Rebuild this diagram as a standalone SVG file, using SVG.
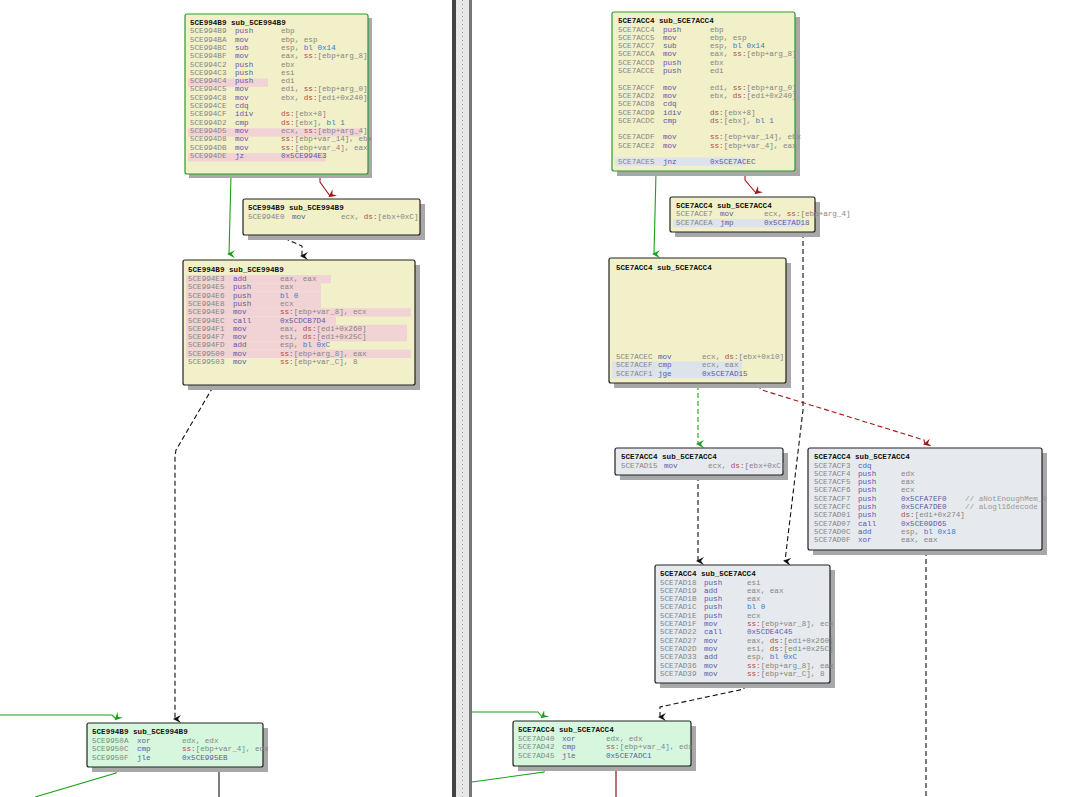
<svg xmlns="http://www.w3.org/2000/svg" width="1080" height="797" viewBox="0 0 1080 797">
<style>
text{font-family:"Liberation Mono",monospace;font-size:7.6px;fill:#858585}
.h{fill:#111;font-weight:bold}
.m{fill:#5a5aa8}
.r{fill:#b04848}
.n{fill:#3a78c8}
.c{fill:#999}
.y{fill:#f1f0c9}
.g{fill:#d6f7de}
.b{fill:#e6eaee}
.box{stroke:#222;stroke-width:1.2}
.gb{stroke:#2a9a2a;stroke-width:1.2}
.sh{fill:#a8a8a8}
.pk{fill:#f2d3d5}
.bl{fill:#dde3ec}
.e{fill:none;stroke-width:1.1}
</style>
<defs>
<marker id="ak" markerWidth="8" markerHeight="8" refX="4" refY="6" orient="auto-start-reverse" markerUnits="userSpaceOnUse" viewBox="0 0 8 8"><path d="M0,0 L4,8 L8,0 L4,3z" fill="#111"/></marker>
<marker id="ag" markerWidth="8" markerHeight="8" refX="4" refY="6" orient="auto-start-reverse" markerUnits="userSpaceOnUse" viewBox="0 0 8 8"><path d="M0,0 L4,8 L8,0 L4,3z" fill="#1aa01a"/></marker>
<marker id="ar" markerWidth="8" markerHeight="8" refX="4" refY="6" orient="auto-start-reverse" markerUnits="userSpaceOnUse" viewBox="0 0 8 8"><path d="M0,0 L4,8 L8,0 L4,3z" fill="#a01818"/></marker>
</defs>
<rect width="1080" height="797" fill="#fff"/>
<g id="divider">
<rect x="452" y="0" width="4" height="797" fill="#444"/>
<rect x="456" y="0" width="13" height="797" fill="#e8e8e8"/>
<line x1="462.5" y1="0" x2="462.5" y2="797" stroke="#999" stroke-dasharray="1 3"/>
<rect x="469" y="0" width="3" height="797" fill="#777"/>
</g>
<g id="connectors">
<path class="e" stroke="#1aa01a" d="M231,175 L229,254" marker-end="url(#ag)"/>
<path class="e" stroke="#a01818" d="M320,175 L320,182 L330,196" marker-end="url(#ar)"/>
<path class="e" stroke="#111" stroke-dasharray="5 3" d="M288,236 L288,240 L302,246 L302,256" marker-end="url(#ak)"/>
<path class="e" stroke="#111" stroke-dasharray="5 3" d="M213,387 L176,450 L175,456 L175,719" marker-end="url(#ak)"/>
<path class="e" stroke="#1aa01a" d="M0,715 L112,715 L116,719" marker-end="url(#ag)"/>
<path class="e" stroke="#1aa01a" d="M118,768 L116,773 L35,797"/>
<path class="e" stroke="#111" d="M219,768 L219,797"/>
<path class="e" stroke="#1aa01a" d="M656,172 L654,254" marker-end="url(#ag)"/>
<path class="e" stroke="#a01818" d="M745,172 L745,180 L756,193" marker-end="url(#ar)"/>
<path class="e" stroke="#111" stroke-dasharray="5 3" d="M803,233 L803,410 L785,561" marker-end="url(#ak)"/>
<path class="e" stroke="#1aa01a" stroke-dasharray="5 3" d="M698,385 L698,444" marker-end="url(#ag)"/>
<path class="e" stroke="#a01818" stroke-dasharray="5 3" d="M757,385 L762,390 L924,440 L925,444" marker-end="url(#ar)"/>
<path class="e" stroke="#111" stroke-dasharray="5 3" d="M698,476 L698,561" marker-end="url(#ak)"/>
<path class="e" stroke="#111" stroke-dasharray="5 3" d="M926,551 L926,797"/>
<path class="e" stroke="#111" stroke-dasharray="5 3" d="M744,684 L744,689 L660,707 L660,717" marker-end="url(#ak)"/>
<path class="e" stroke="#1aa01a" d="M472,712 L538,712 L542,717" marker-end="url(#ag)"/>
<path class="e" stroke="#1aa01a" d="M545,767 L544,772 L472,782"/>
<path class="e" stroke="#7a0000" d="M616,767 L616,797"/>
</g>

<g id="L1">
<rect class="sh" x="189" y="18" width="183" height="160"/>
<rect class="y gb" x="185" y="14" width="183" height="160" rx="2"/>
<rect class="pk" x="188" y="78.5" width="80" height="8.3"/>
<rect class="pk" x="188" y="128.3" width="173" height="8.3"/>
<rect class="pk" x="188" y="153.2" width="138" height="8.3"/>
<text class="h" x="190" y="25">5CE994B9    sub_5CE994B9</text>
<text x="190" y="33.3">5CE994B9<tspan class="m" x="235">push</tspan><tspan x="281">ebp</tspan></text>
<text x="190" y="41.6">5CE994BA<tspan class="m" x="235">mov</tspan><tspan x="281">ebp, esp</tspan></text>
<text x="190" y="49.9">5CE994BC<tspan class="m" x="235">sub</tspan><tspan x="281">esp, </tspan><tspan class="n">bl 0x14</tspan></text>
<text x="190" y="58.2">5CE994BF<tspan class="m" x="235">mov</tspan><tspan x="281">eax, </tspan><tspan class="r">ss:</tspan>[ebp+arg_8]</text>
<text x="190" y="66.5">5CE994C2<tspan class="m" x="235">push</tspan><tspan x="281">ebx</tspan></text>
<text x="190" y="74.8">5CE994C3<tspan class="m" x="235">push</tspan><tspan x="281">esi</tspan></text>
<text x="190" y="83.1">5CE994C4<tspan class="m" x="235">push</tspan><tspan x="281">edi</tspan></text>
<text x="190" y="91.4">5CE994C5<tspan class="m" x="235">mov</tspan><tspan x="281">edi, </tspan><tspan class="r">ss:</tspan>[ebp+arg_0]</text>
<text x="190" y="99.7">5CE994C8<tspan class="m" x="235">mov</tspan><tspan x="281">ebx, </tspan><tspan class="r">ds:</tspan>[edi+0x240]</text>
<text x="190" y="108">5CE994CE<tspan class="m" x="235">cdq</tspan></text>
<text x="190" y="116.3">5CE994CF<tspan class="m" x="235">idiv</tspan><tspan class="r" x="281">ds:</tspan>[ebx+8]</text>
<text x="190" y="124.6">5CE994D2<tspan class="m" x="235">cmp</tspan><tspan class="r" x="281">ds:</tspan>[ebx], <tspan class="n">bl 1</tspan></text>
<text x="190" y="132.9">5CE994D5<tspan class="m" x="235">mov</tspan><tspan x="281">ecx, </tspan><tspan class="r">ss:</tspan>[ebp+arg_4]</text>
<text x="190" y="141.2">5CE994D8<tspan class="m" x="235">mov</tspan><tspan class="r" x="281">ss:</tspan>[ebp+var_14], ebx</text>
<text x="190" y="149.5">5CE994DB<tspan class="m" x="235">mov</tspan><tspan class="r" x="281">ss:</tspan>[ebp+var_4], eax</text>
<text x="190" y="157.8">5CE994DE<tspan class="m" x="235">jz</tspan><tspan class="m" x="281">0x5CE994E3</tspan></text>
</g>

<g id="L2">
<rect class="sh" x="248" y="204" width="177" height="36"/>
<rect class="y box" x="243" y="199" width="177" height="36" rx="2"/>
<text class="h" x="248" y="210">5CE994B9    sub_5CE994B9</text>
<text x="248" y="218.5">5CE994E0<tspan class="m" x="292">mov</tspan><tspan x="341">ecx, </tspan><tspan class="r">ds:</tspan>[ebx+0xC]</text>
</g>

<g id="L3">
<rect class="sh" x="188" y="265" width="232" height="125"/>
<rect class="y box" x="183" y="260" width="232" height="125" rx="2"/>
<rect class="pk" x="186" y="275" width="145" height="8.3"/>
<rect class="pk" x="186" y="283.3" width="135" height="8.3"/>
<rect class="pk" x="186" y="291.6" width="135" height="8.3"/>
<rect class="pk" x="186" y="299.9" width="135" height="8.3"/>
<rect class="pk" x="186" y="308.2" width="225" height="8.3"/>
<rect class="pk" x="186" y="316.5" width="150" height="8.3"/>
<rect class="pk" x="186" y="324.8" width="221" height="8.3"/>
<rect class="pk" x="186" y="333.1" width="221" height="8.3"/>
<rect class="pk" x="186" y="341.4" width="140" height="8.3"/>
<rect class="pk" x="186" y="349.7" width="225" height="8.3"/>
<text class="h" x="188" y="272">5CE994B9    sub_5CE994B9</text>
<text x="188" y="281">5CE994E3<tspan class="m" x="233">add</tspan><tspan x="280">eax, eax</tspan></text>
<text x="188" y="289.3">5CE994E5<tspan class="m" x="233">push</tspan><tspan x="280">eax</tspan></text>
<text x="188" y="297.6">5CE994E6<tspan class="m" x="233">push</tspan><tspan class="n" x="280">bl 0</tspan></text>
<text x="188" y="305.9">5CE994E8<tspan class="m" x="233">push</tspan><tspan x="280">ecx</tspan></text>
<text x="188" y="314.2">5CE994E9<tspan class="m" x="233">mov</tspan><tspan class="r" x="280">ss:</tspan>[ebp+var_8], ecx</text>
<text x="188" y="322.5">5CE994EC<tspan class="m" x="233">call</tspan><tspan class="m" x="280">0x5CDCB7D4</tspan></text>
<text x="188" y="330.8">5CE994F1<tspan class="m" x="233">mov</tspan><tspan x="280">eax, </tspan><tspan class="r">ds:</tspan>[edi+0x260]</text>
<text x="188" y="339.1">5CE994F7<tspan class="m" x="233">mov</tspan><tspan x="280">esi, </tspan><tspan class="r">ds:</tspan>[edi+0x25C]</text>
<text x="188" y="347.4">5CE994FD<tspan class="m" x="233">add</tspan><tspan x="280">esp, </tspan><tspan class="n">bl 0xC</tspan></text>
<text x="188" y="355.7">5CE99500<tspan class="m" x="233">mov</tspan><tspan class="r" x="280">ss:</tspan>[ebp+arg_8], eax</text>
<text x="188" y="364">5CE99503<tspan class="m" x="233">mov</tspan><tspan class="r" x="280">ss:</tspan>[ebp+var_C], 8</text>
</g>

<g id="L4">
<rect class="sh" x="92" y="728" width="176" height="44"/>
<rect class="g box" x="87" y="723" width="176" height="44" rx="2"/>
<text class="h" x="92" y="734">5CE994B9    sub_5CE994B9</text>
<text x="92" y="742.5">5CE9950A<tspan class="m" x="137">xor</tspan><tspan x="182">edx, edx</tspan></text>
<text x="92" y="751">5CE9950C<tspan class="m" x="137">cmp</tspan><tspan class="r" x="182">ss:</tspan>[ebp+var_4], edx</text>
<text x="92" y="759.5">5CE9950F<tspan class="m" x="137">jle</tspan><tspan class="m" x="182">0x5CE995EB</tspan></text>
</g>

<g id="R1">
<rect class="sh" x="617" y="17" width="183" height="159"/>
<rect class="y gb" x="612" y="12" width="183" height="159" rx="2"/>
<rect class="bl" x="615" y="157.5" width="130" height="8.3"/>
<text class="h" x="618" y="23">5CE7ACC4    sub_5CE7ACC4</text>
<text x="618" y="31.5">5CE7ACC4<tspan class="m" x="663">push</tspan><tspan x="710">ebp</tspan></text>
<text x="618" y="39.8">5CE7ACC5<tspan class="m" x="663">mov</tspan><tspan x="710">ebp, esp</tspan></text>
<text x="618" y="48.1">5CE7ACC7<tspan class="m" x="663">sub</tspan><tspan x="710">esp, </tspan><tspan class="n">bl 0x14</tspan></text>
<text x="618" y="56.4">5CE7ACCA<tspan class="m" x="663">mov</tspan><tspan x="710">eax, </tspan><tspan class="r">ss:</tspan>[ebp+arg_8]</text>
<text x="618" y="64.7">5CE7ACCD<tspan class="m" x="663">push</tspan><tspan x="710">ebx</tspan></text>
<text x="618" y="73">5CE7ACCE<tspan class="m" x="663">push</tspan><tspan x="710">edi</tspan></text>
<text x="618" y="89.6">5CE7ACCF<tspan class="m" x="663">mov</tspan><tspan x="710">edi, </tspan><tspan class="r">ss:</tspan>[ebp+arg_0]</text>
<text x="618" y="97.9">5CE7ACD2<tspan class="m" x="663">mov</tspan><tspan x="710">ebx, </tspan><tspan class="r">ds:</tspan>[edi+0x240]</text>
<text x="618" y="106.2">5CE7ACD8<tspan class="m" x="663">cdq</tspan></text>
<text x="618" y="114.5">5CE7ACD9<tspan class="m" x="663">idiv</tspan><tspan class="r" x="710">ds:</tspan>[ebx+8]</text>
<text x="618" y="122.8">5CE7ACDC<tspan class="m" x="663">cmp</tspan><tspan class="r" x="710">ds:</tspan>[ebx], <tspan class="n">bl 1</tspan></text>
<text x="618" y="139.4">5CE7ACDF<tspan class="m" x="663">mov</tspan><tspan class="r" x="710">ss:</tspan>[ebp+var_14], ebx</text>
<text x="618" y="147.7">5CE7ACE2<tspan class="m" x="663">mov</tspan><tspan class="r" x="710">ss:</tspan>[ebp+var_4], eax</text>
<text x="618" y="164">5CE7ACE5<tspan class="m" x="663">jnz</tspan><tspan class="m" x="710">0x5CE7ACEC</tspan></text>
</g>

<g id="R2">
<rect class="sh" x="675" y="202" width="145" height="35"/>
<rect class="y box" x="670" y="197" width="145" height="35" rx="2"/>
<rect class="bl" x="673" y="219" width="130" height="8.3"/>
<text class="h" x="676" y="208">5CE7ACC4    sub_5CE7ACC4</text>
<text x="676" y="216">5CE7ACE7<tspan class="m" x="720">mov</tspan><tspan x="764">ecx, </tspan><tspan class="r">ss:</tspan>[ebp+arg_4]</text>
<text x="676" y="224.5">5CE7ACEA<tspan class="m" x="720">jmp</tspan><tspan class="m" x="764">0x5CE7AD18</tspan></text>
</g>

<g id="R3">
<rect class="sh" x="614" y="263" width="177" height="125"/>
<rect class="y box" x="609" y="258" width="177" height="125" rx="2"/>
<rect class="bl" x="612" y="361.5" width="130" height="8.3"/>
<rect class="bl" x="612" y="369.8" width="130" height="8.3"/>
<text class="h" x="616" y="270">5CE7ACC4    sub_5CE7ACC4</text>
<text x="616" y="358.5">5CE7ACEC<tspan class="m" x="658">mov</tspan><tspan x="702">ecx, </tspan><tspan class="r">ds:</tspan>[ebx+0x10]</text>
<text x="616" y="367">5CE7ACEF<tspan class="m" x="658">cmp</tspan><tspan x="702">ecx, eax</tspan></text>
<text x="616" y="375.5">5CE7ACF1<tspan class="m" x="658">jge</tspan><tspan class="m" x="702">0x5CE7AD15</tspan></text>
</g>

<g id="R4">
<rect class="sh" x="620" y="453" width="168" height="27"/>
<rect class="b box" x="615" y="448" width="168" height="27" rx="2"/>
<text class="h" x="621" y="459">5CE7ACC4    sub_5CE7ACC4</text>
<text x="621" y="467.5">5CE7AD15<tspan class="m" x="664">mov</tspan><tspan x="708">ecx, </tspan><tspan class="r">ds:</tspan>[ebx+0xC]</text>
</g>

<g id="R5">
<rect class="sh" x="813" y="453" width="234" height="102"/>
<rect class="b box" x="808" y="448" width="234" height="102" rx="2"/>
<text class="h" x="814" y="459">5CE7ACC4    sub_5CE7ACC4</text>
<text x="814" y="467.5">5CE7ACF3<tspan class="m" x="858">cdq</tspan></text>
<text x="814" y="475.8">5CE7ACF4<tspan class="m" x="858">push</tspan><tspan x="901">edx</tspan></text>
<text x="814" y="484.1">5CE7ACF5<tspan class="m" x="858">push</tspan><tspan x="901">eax</tspan></text>
<text x="814" y="492.4">5CE7ACF6<tspan class="m" x="858">push</tspan><tspan x="901">ecx</tspan></text>
<text x="814" y="500.7">5CE7ACF7<tspan class="m" x="858">push</tspan><tspan class="m" x="901">0x5CFA7EF0</tspan><tspan class="c" x="965">// aNotEnoughMem_0</tspan></text>
<text x="814" y="509">5CE7ACFC<tspan class="m" x="858">push</tspan><tspan class="m" x="901">0x5CFA7DE0</tspan><tspan class="c" x="965">// aLogl16decode</tspan></text>
<text x="814" y="517.3">5CE7AD01<tspan class="m" x="858">push</tspan><tspan class="r" x="901">ds:</tspan>[edi+0x274]</text>
<text x="814" y="525.6">5CE7AD07<tspan class="m" x="858">call</tspan><tspan class="m" x="901">0x5CE09D65</tspan></text>
<text x="814" y="533.9">5CE7AD0C<tspan class="m" x="858">add</tspan><tspan x="901">esp, </tspan><tspan class="n">bl 0x18</tspan></text>
<text x="814" y="542.2">5CE7AD0F<tspan class="m" x="858">xor</tspan><tspan x="901">eax, eax</tspan></text>
</g>

<g id="R6">
<rect class="sh" x="660" y="570" width="175" height="118"/>
<rect class="b box" x="655" y="565" width="175" height="118" rx="2"/>
<text class="h" x="660" y="576">5CE7ACC4    sub_5CE7ACC4</text>
<text x="660" y="584.5">5CE7AD18<tspan class="m" x="704">push</tspan><tspan x="747">esi</tspan></text>
<text x="660" y="592.8">5CE7AD19<tspan class="m" x="704">add</tspan><tspan x="747">eax, eax</tspan></text>
<text x="660" y="601.1">5CE7AD1B<tspan class="m" x="704">push</tspan><tspan x="747">eax</tspan></text>
<text x="660" y="609.4">5CE7AD1C<tspan class="m" x="704">push</tspan><tspan class="n" x="747">bl 0</tspan></text>
<text x="660" y="617.7">5CE7AD1E<tspan class="m" x="704">push</tspan><tspan x="747">ecx</tspan></text>
<text x="660" y="626">5CE7AD1F<tspan class="m" x="704">mov</tspan><tspan class="r" x="747">ss:</tspan>[ebp+var_8], ecx</text>
<text x="660" y="634.3">5CE7AD22<tspan class="m" x="704">call</tspan><tspan class="m" x="747">0x5CDE4C45</tspan></text>
<text x="660" y="642.6">5CE7AD27<tspan class="m" x="704">mov</tspan><tspan x="747">eax, </tspan><tspan class="r">ds:</tspan>[edi+0x260]</text>
<text x="660" y="650.9">5CE7AD2D<tspan class="m" x="704">mov</tspan><tspan x="747">esi, </tspan><tspan class="r">ds:</tspan>[edi+0x25C]</text>
<text x="660" y="659.2">5CE7AD33<tspan class="m" x="704">add</tspan><tspan x="747">esp, </tspan><tspan class="n">bl 0xC</tspan></text>
<text x="660" y="667.5">5CE7AD36<tspan class="m" x="704">mov</tspan><tspan class="r" x="747">ss:</tspan>[ebp+arg_8], eax</text>
<text x="660" y="675.8">5CE7AD39<tspan class="m" x="704">mov</tspan><tspan class="r" x="747">ss:</tspan>[ebp+var_C], 8</text>
</g>

<g id="R7">
<rect class="sh" x="518" y="726" width="178" height="45"/>
<rect class="g box" x="513" y="721" width="178" height="45" rx="2"/>
<text class="h" x="518" y="732">5CE7ACC4    sub_5CE7ACC4</text>
<text x="518" y="740.5">5CE7AD40<tspan class="m" x="562">xor</tspan><tspan x="606">edx, edx</tspan></text>
<text x="518" y="749">5CE7AD42<tspan class="m" x="562">cmp</tspan><tspan class="r" x="606">ss:</tspan>[ebp+var_4], edx</text>
<text x="518" y="757.5">5CE7AD45<tspan class="m" x="562">jle</tspan><tspan class="m" x="606">0x5CE7ADC1</tspan></text>
</g>
</svg>
